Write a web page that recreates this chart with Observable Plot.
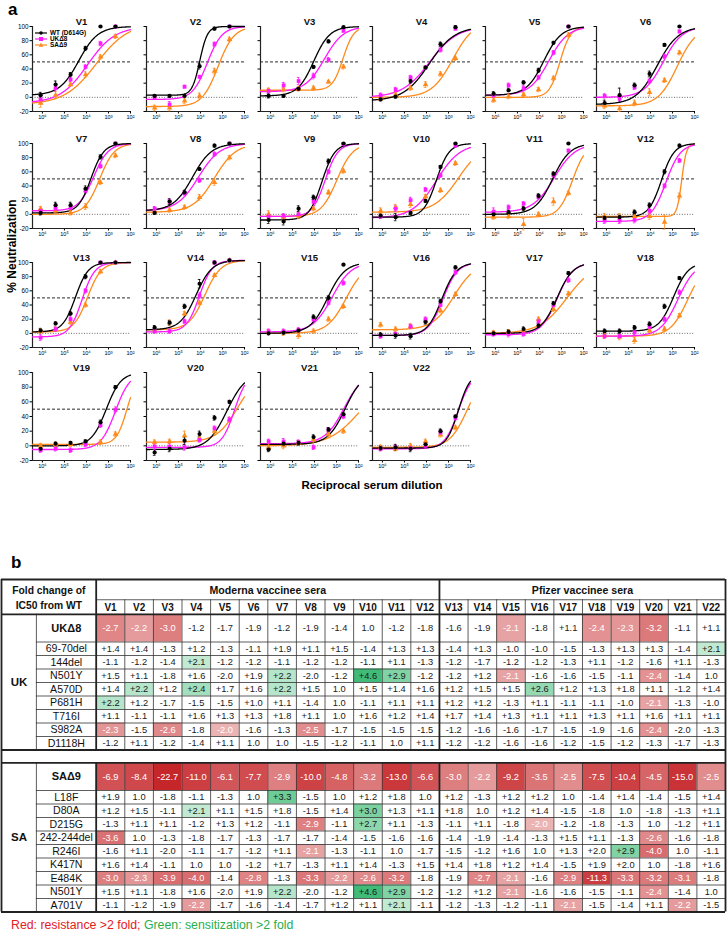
<!DOCTYPE html>
<html><head><meta charset="utf-8">
<script src="https://cdn.jsdelivr.net/npm/d3@7"></script>
<script src="https://cdn.jsdelivr.net/npm/@observablehq/plot@0.6"></script>
<style>
body{margin:0;background:#fff;}
#root{position:relative;width:727px;height:933px;font-family:"Liberation Sans",Arial,sans-serif;overflow:hidden;background:#fff;}
.abs{position:absolute;}
</style></head><body><div id="root"></div>
<script>
// ---------------- DATA (panel a) ----------------
const sera = ["V1","V2","V3","V4","V5","V6","V7","V8","V9","V10","V11","V12","V13","V14","V15","V16","V17","V18","V19","V20","V21","V22"];
const variants = ["WT (D614G)","UKΔ8","SAΔ9"];
const logDilution = [6.08, 5.40, 4.72, 4.04, 3.36, 2.68];
const xTicks = [6,5,4,3,2];
const xTickLabels = ["10⁶","10⁵","10⁴","10³","10²"];
const yTicks = [-20,0,20,40,60,80,100];

const wtMean = [
[3,18,32,69,100,100],[2,2,2,44,97,100],[2,2,12,43,79,99],[-3,1,23,42,75,99],[5,10,21,38,77,100],[-8,3,17,33,74,100],
[2,13,13,36,81,100],[2,18,31,64,97,100],[-8,-10,8,24,75,100],[-2,-4,2,19,67,100],[0,3,8,26,57,100],[-5,-4,3,13,60,97],
[4,14,28,80,100,100],[8,15,38,70,100,103],[0,1,4,23,50,97],[-2,-3,-4,16,45,93],[0,2,6,11,42,85],[3,3,8,13,38,78],
[-4,3,4,6,32,80],[-9,-4,7,16,38,60],[-5,3,4,12,22,43],[-3,-2,-4,2,20,40]];
const ukMean = [
[-3,13,25,43,76,100],[-1,-10,15,29,75,100],[9,17,23,30,53,94],[3,11,28,42,67,97],[3,17,13,28,63,100],[2,-2,14,23,58,93],
[5,8,9,34,68,100],[8,18,30,48,85,100],[-3,-2,0,18,60,99],[-3,8,20,35,55,97],[4,10,15,25,56,90],[-9,-9,-8,5,40,76],
[-6,6,20,60,100,100],[3,3,17,53,100,103],[3,3,5,20,43,71],[-4,-1,10,20,40,86],[-1,-1,-1,17,40,75],[-4,-4,1,9,20,58],
[-6,-4,-6,2,28,49],[-1,-1,-2,8,24,36],[6,6,5,-2,22,40],[-4,-2,-3,0,18,38]];
const saMean = [
[-8,3,18,32,57,86],[-15,-15,-5,2,37,82],[10,11,12,13,22,43],[-2,4,13,18,33,55],[-4,1,4,11,27,88],[-12,-16,-8,7,24,63],
[8,5,2,11,45,83],[4,6,10,24,45,80],[0,-4,-2,8,31,61],[5,10,14,25,34,72],[-4,-3,-14,0,18,30],[-3,-3,-3,-3,-11,26],
[3,6,16,40,87,100],[5,15,28,43,82,103],[2,1,-3,3,20,38],[12,6,10,18,32,55],[1,2,1,20,34,56],[-3,-5,-10,4,6,25],
[0,2,2,5,5,16],[5,6,14,10,20,36],[-2,0,4,8,16,20],[-2,-4,0,6,15,25]];

const wtErr = [
[4,5,3,3,1,1],[2,2,1,4,2,1],[3,2,2,2,2,1],[2,2,3,2,3,2],[3,2,2,3,2,1],[4,10,3,4,2,1],
[3,4,4,4,3,1],[2,4,3,2,2,1],[5,5,4,3,3,1],[3,5,2,2,2,1],[3,3,3,3,3,1],[3,3,3,3,3,2],
[3,2,3,3,1,1],[3,3,3,6,2,1],[2,2,2,3,3,1],[3,4,4,3,3,2],[2,3,3,3,3,2],[3,3,3,3,3,2],
[3,2,2,2,3,2],[4,4,5,4,3,2],[3,3,3,3,3,2],[3,4,4,3,3,2]];
const ukErr = [
[4,4,3,3,3,1],[2,4,2,2,3,1],[3,4,5,4,3,2],[3,3,3,2,3,2],[3,3,4,3,3,1],[3,3,3,3,3,2],
[3,3,3,3,3,1],[3,3,3,3,3,1],[4,3,3,3,3,1],[3,4,4,3,3,2],[5,3,3,3,3,2],[4,4,4,3,3,3],
[4,3,3,3,1,1],[3,3,3,4,2,1],[3,3,3,3,3,3],[3,3,3,3,3,3],[3,4,3,3,3,3],[3,3,3,3,3,3],
[3,3,3,3,3,4],[4,4,4,3,3,3],[3,4,3,3,3,3],[3,3,3,3,3,3]];
const saErr = [
[6,5,2,4,3,3],[4,4,4,4,4,3],[3,3,3,3,2,3],[2,3,3,4,3,3],[3,3,3,3,3,3],[4,4,4,5,3,3],
[3,3,3,4,3,3],[3,3,3,4,4,3],[5,4,4,3,3,3],[4,4,4,3,3,3],[3,3,8,3,5,3],[4,4,4,4,10,4],
[3,3,3,3,3,1],[4,4,3,3,2,1],[3,4,4,3,3,3],[3,3,3,3,3,3],[3,3,3,3,3,3],[4,4,4,3,3,3],
[3,3,3,3,3,3],[3,3,6,3,4,3],[5,4,3,4,3,3],[3,3,3,3,3,3]];

// fitted curve parameters: [bottom, top, log10 ID50, hill slope]
const wtFit = [
[3,100,4.35,1.0],[3,100,4.03,2.5],[2,100,4.03,1.2],[-5,100,3.87,0.75],[3,100,3.80,1.1],[-10,100,3.69,0.9],
[2,100,3.79,1.5],[5,100,4.36,1.0],[-8,100,3.66,1.5],[-4,100,3.55,1.5],[0,100,3.40,1.1],[-4,100,3.50,1.5],
[2,100,4.50,1.5],[5,103,4.20,1.2],[0,100,3.40,1.1],[-3,100,3.30,1.3],[0,100,3.20,1.2],[3,100,2.95,1.3],
[0,100,3.10,1.3],[-5,100,2.80,1.0],[2,100,2.60,1.1],[-3,100,2.55,1.6]];
const ukFit = [
[-8,100,3.95,0.7],[-3,100,3.69,1.3],[8,100,3.55,1.0],[0,100,3.85,0.7],[3,100,3.57,1.0],[0,100,3.42,1.0],
[5,100,3.68,1.3],[5,100,4.09,0.9],[-3,100,3.51,1.5],[-5,100,3.55,0.8],[3,100,3.33,0.9],[-10,100,3.30,1.3],
[-5,100,4.20,1.5],[2,103,4.05,1.5],[2,100,3.20,1.0],[-3,100,3.25,1.3],[-2,100,3.20,1.2],[-4,100,2.75,1.1],
[-5,100,2.68,1.3],[-2,100,2.45,1.5],[3,100,2.65,1.0],[-4,100,2.55,1.4]];
const saFit = [
[-10,105,3.55,0.6],[-13,100,3.20,1.2],[10,100,2.70,1.8],[0,108,2.80,0.9],[0,100,3.07,1.8],[-12,100,2.78,1.0],
[0,100,3.40,1.3],[3,100,3.36,0.9],[-3,100,2.98,1.2],[3,100,2.54,0.8],[-4,100,2.50,1.4],[-3,100,2.58,4.0],
[2,100,3.95,1.4],[5,103,3.80,1.2],[0,100,2.55,1.0],[5,100,2.75,0.9],[0,100,2.75,0.7],[-4,100,2.30,1.1],
[2,100,2.15,1.8],[5,100,2.30,0.9],[0,100,1.85,0.6],[-2,100,2.15,1.1]];

// ---------------- DATA (panel b) ----------------
const ukRows = ["UKΔ8","69-70del","144del","N501Y","A570D","P681H","T716I","S982A","D1118H"];
const ukFold = [
"-2.7 -2.2 -3.0 -1.2 -1.7 -1.9 -1.2 -1.9 -1.4 1.0 -1.2 -1.8 -1.6 -1.9 -2.1 -1.8 +1.1 -2.4 -2.3 -3.2 -1.1 +1.1",
"+1.4 +1.4 -1.3 +1.2 -1.3 -1.1 +1.9 +1.1 +1.5 -1.4 +1.3 +1.3 -1.4 +1.3 -1.0 -1.0 -1.5 -1.3 +1.3 +1.3 -1.4 +2.1",
"-1.1 -1.2 -1.4 +2.1 -1.2 -1.2 -1.1 -1.2 -1.2 -1.1 +1.1 -1.3 -1.2 -1.7 -1.2 -1.2 -1.3 +1.1 -1.2 -1.6 +1.1 -1.3",
"+1.5 +1.1 -1.8 +1.6 -2.0 +1.9 +2.2 -2.0 -1.2 +4.6 +2.9 -1.2 -1.2 +1.2 -2.1 -1.6 -1.6 -1.5 -1.1 -2.4 -1.4 1.0",
"+1.4 +2.2 +1.2 +2.4 +1.7 +1.6 +2.2 +1.5 1.0 +1.5 +1.4 +1.6 +1.2 +1.5 +1.5 +2.6 +1.2 +1.3 +1.8 +1.1 -1.2 +1.4",
"+2.2 +1.2 -1.7 -1.5 -1.5 +1.0 +1.1 -1.4 1.0 -1.1 +1.1 +1.1 +1.2 +1.2 -1.3 +1.1 -1.1 -1.1 -1.0 -2.1 -1.3 -1.0",
"+1.1 -1.1 -1.1 +1.6 +1.3 +1.3 +1.8 +1.1 1.0 +1.6 +1.2 +1.4 +1.7 +1.4 +1.3 +1.1 +1.1 +1.3 +1.1 +1.6 +1.1 +1.1",
"-2.3 -1.5 -2.6 -1.8 -2.0 -1.6 -1.3 -2.5 -1.7 -1.5 -1.5 -1.5 -1.2 -1.6 -1.6 -1.7 -1.5 -1.9 -1.6 -2.4 -2.0 -1.3",
"-1.2 +1.1 -1.2 -1.4 +1.1 1.0 1.0 -1.5 -1.2 -1.1 1.0 +1.1 -1.2 -1.2 -1.6 -1.6 -1.2 -1.5 -1.2 -1.3 -1.7 -1.3"];
const saRows = ["SAΔ9","L18F","D80A","D215G","242-244del","R246I","K417N","E484K","N501Y","A701V"];
const saFold = [
"-6.9 -8.4 -22.7 -11.0 -6.1 -7.7 -2.9 -10.0 -4.8 -3.2 -13.0 -6.6 -3.0 -2.2 -9.2 -3.5 -2.5 -7.5 -10.4 -4.5 -15.0 -2.5",
"+1.9 1.0 -1.8 -1.1 -1.3 1.0 +3.3 -1.5 1.0 +1.2 +1.8 1.0 +1.2 -1.3 +1.2 +1.2 1.0 -1.4 +1.4 -1.4 -1.5 +1.4",
"+1.2 +1.5 -1.1 +2.1 +1.1 +1.5 +1.8 -1.5 +1.4 +3.0 +1.3 +1.1 +1.8 1.0 +1.2 +1.4 -1.5 -1.8 1.0 -1.8 -1.3 +1.1",
"-1.3 +1.1 +1.1 -1.2 +1.3 +1.2 -1.1 -2.9 -1.1 +2.7 +1.1 -1.3 -1.1 +1.1 -1.8 -2.0 -1.2 -1.8 -1.3 1.0 -1.2 +1.1",
"-3.6 1.0 -1.3 -1.8 -1.7 -1.3 -1.7 -1.7 -1.4 -1.5 -1.6 -1.6 -1.4 -1.9 -1.4 -1.3 +1.5 +1.1 -1.3 -2.6 -1.6 -1.8",
"-1.6 +1.1 -2.0 -1.1 -1.7 -1.2 +1.1 -2.1 -1.3 -1.1 1.0 -1.7 -1.5 -1.2 +1.6 1.0 +1.3 +2.0 +2.9 -4.0 1.0 -1.1",
"+1.6 +1.4 -1.1 1.0 1.0 -1.2 +1.7 -1.3 +1.1 +1.4 -1.3 +1.5 +1.4 +1.8 +1.2 +1.4 -1.5 +1.9 +2.0 1.0 -1.8 +1.6",
"-3.0 -2.3 -3.9 -4.0 -1.4 -2.8 -1.3 -3.3 -2.2 -2.6 -3.2 -1.8 -1.9 -2.7 -2.1 -1.6 -2.9 -11.3 -3.3 -3.2 -3.1 -1.8",
"+1.5 +1.1 -1.8 +1.6 -2.0 +1.9 +2.2 -2.0 -1.2 +4.6 +2.9 -1.2 -1.2 +1.2 -2.1 -1.6 -1.6 -1.5 -1.1 -2.4 -1.4 1.0",
"-1.1 -1.2 -1.9 -2.2 -1.7 -1.6 -1.4 -1.7 +1.2 +1.1 +2.1 -1.1 -1.2 -1.3 -1.2 -1.1 -2.1 -1.5 -1.4 +1.1 -2.2 -1.5"];
// cells shown as "-2.0" but coloured red in the picture (just over 2 fold)
const borderlineRed = [["S982A","V5"],["D215G","V16"]];
const groupNames = ["UK","SA"];
const vaccineGroups = ["Moderna vaccinee sera","Pfizer vaccinee sera"];

// ---------------- RENDER ----------------
const root = document.getElementById("root");
const FONT = '"Liberation Sans", Arial, Helvetica, sans-serif';
function addDiv(html, css){ const d=document.createElement("div"); d.className="abs"; d.innerHTML=html; Object.assign(d.style, css); root.appendChild(d); return d; }

addDiv("a",{left:"8px",top:"0px",fontSize:"17px",lineHeight:"20px",fontWeight:"bold"});
addDiv("b",{left:"11px",top:"553px",fontSize:"17px",lineHeight:"20px",fontWeight:"bold"});

const colAxis = [32,146,260,372,485,596];
const rowTop = [26,143,262,372];
const keys = ["sa","uk","wt"];
const colors = {wt:"#000000", uk:"#ff1aff", sa:"#ff8a1c"};
const symbols = {wt:"circle", uk:"square", sa:"triangle"};

sera.forEach((name,i)=>{
  const row = Math.floor(i/6), col = i%6;
  const ph = row===3 ? 88 : 85, pw = 98, mL = 24, mR = 8, mT = 14, mB = 12;
  const src = {wt:[wtMean[i],wtErr[i],wtFit[i]], uk:[ukMean[i],ukErr[i],ukFit[i]], sa:[saMean[i],saErr[i],saFit[i]]};
  const pts = [], curve = [];
  for (const k of keys){
    const [m,e,f] = src[k];
    m.forEach((v,j)=>pts.push({k, x:logDilution[j], y:v, e:e[j]}));
    const [b,t,c,h] = f;
    for (let x=6.45; x>=1.999; x-=0.025) curve.push({k, x, y: b + (t-b)/(1+Math.pow(10, h*(x-c)))});
  }
  const cap = 0.06;
  const svg = Plot.plot({
    width: mL+pw+mR, height: mT+ph+mB,
    marginLeft: mL, marginRight: mR, marginTop: mT, marginBottom: mB,
    style: {fontFamily: FONT, background: "transparent", overflow: "visible"},
    x: {domain:[6.45,2], label:null},
    y: {domain:[-20,100], label:null},
    color: {domain: keys, range: keys.map(k=>colors[k])},
    symbol: {domain: keys, range: keys.map(k=>symbols[k])},
    marks: [
      Plot.ruleY([50], {stroke:"#111", strokeWidth:0.9, strokeDasharray:"3,2"}),
      Plot.ruleY([0], {stroke:"#444", strokeWidth:0.8, strokeDasharray:"1,1.6"}),
      Plot.axisY({ticks: yTicks, tickSize: 2.5, tickPadding: 1.5, fontSize: 6.3, tickFormat: col===0 ? (d=>String(d)) : (()=>"")}),
      Plot.axisX({ticks: xTicks, tickSize: 2.5, tickPadding: 1.5, fontSize: 5.6, tickFormat: d=>xTickLabels[xTicks.indexOf(d)]}),
      Plot.ruleX([6.45], {stroke:"#222", strokeWidth:1.2}),
      Plot.ruleY([-20], {stroke:"#222", strokeWidth:1.2}),
      Plot.line(curve, {x:"x", y:"y", z:"k", stroke:"k", strokeWidth:1.3}),
      Plot.ruleX(pts, {x:"x", y1:d=>d.y-d.e, y2:d=>d.y+d.e, stroke:"k", strokeWidth:0.8}),
      Plot.ruleY(pts, {y:d=>d.y+d.e, x1:d=>d.x+cap, x2:d=>d.x-cap, stroke:"k", strokeWidth:0.8}),
      Plot.ruleY(pts, {y:d=>d.y-d.e, x1:d=>d.x+cap, x2:d=>d.x-cap, stroke:"k", strokeWidth:0.8}),
      Plot.dot(pts, {x:"x", y:"y", fill:"k", symbol:"k", r:2.1, stroke:"none"}),
      Plot.text([name], {frameAnchor:"top", dy:-8, fontWeight:"bold", fontSize:9.5, fill:"#111"})
    ]
  });
  svg.style.position = "absolute";
  svg.style.left = (colAxis[col]-mL)+"px";
  svg.style.top = (rowTop[row]-mT)+"px";
  root.appendChild(svg);
});

// legend inside V1
const legSvg = (k) => {
  const c = colors[k];
  const mk = k==="wt" ? `<circle cx="6" cy="4" r="1.8" fill="${c}"/>` :
             k==="uk" ? `<rect x="4" y="2" width="4" height="4" fill="${c}"/>` :
                        `<path d="M6,1.6 L8.3,5.8 L3.7,5.8 Z" fill="${c}"/>`;
  return `<svg width="12" height="8" style="vertical-align:middle"><line x1="0" y1="4" x2="12" y2="4" stroke="${c}" stroke-width="1.2"/>${mk}</svg>`;
};
["wt","uk","sa"].forEach((k,j)=>{
  addDiv(legSvg(k)+`<span style="margin-left:3px">${variants[j]}</span>`,
    {left:"35px", top:(29+j*6)+"px", fontSize:"6.4px", fontWeight:"bold", lineHeight:"8px", whiteSpace:"nowrap"});
});

// axis titles
addDiv("% Neutralization",{left:"12px",top:"246px",transform:"translate(-50%,-50%) rotate(-90deg)",fontSize:"12px",fontWeight:"bold",whiteSpace:"nowrap"});
addDiv("Reciprocal serum dilution",{left:"372px",top:"485px",transform:"translate(-50%,-50%)",fontSize:"11.5px",fontWeight:"bold",whiteSpace:"nowrap"});

// ---------------- TABLE (panel b) ----------------
const groupW = 1.22, labelW = 2.09, vStart = groupW+labelW, xMax = vStart + sera.length;
const unitPx = 13.5, h1 = 1.5, h2 = 1.08, deltaH = 2.05, sepH = 0.95;
const lay = []; let yy = h1+h2;
const groupSpans = [];
[[ukRows,ukFold],[saRows,saFold]].forEach(([names,folds],g)=>{
  const gStart = yy;
  names.forEach((nm,r)=>{
    const h = r===0 ? deltaH : 1;
    lay.push({group:groupNames[g], label:nm, vals:folds[r].split(" "), y0:yy, y1:yy+h, bold:r===0});
    yy += h;
  });
  groupSpans.push({name:groupNames[g], y0:gStart, y1:yy});
  if (g===0) yy += sepH;
});
const total = yy;
const ukEnd = groupSpans[0].y1, saStart = groupSpans[1].y0;
const cells = [];
lay.forEach(r=>r.vals.forEach((t,j)=>{
  const v = parseFloat(t);
  const flagged = borderlineRed.some(([a,b])=>a===r.label && b===sera[j]);
  cells.push({x1:vStart+j, x2:vStart+j+1, y0:r.y0, y1:r.y1, text:t, v, red: v < -2.0 || flagged, green: v > 2.0});
}));
const redI = d3.interpolateRgb("#ecb3b3","#c5262a"), greenI = d3.interpolateRgb("#d6f1e1","#3cba74");
function cellFill(d){
  const f = Math.abs(d.v);
  if (d.red) return redI(Math.pow(Math.min(1, Math.max(0, Math.log(f/2)/Math.log(11))), 0.55));
  if (d.green) return greenI(Math.pow(Math.min(1, Math.max(0, Math.log(f/2)/Math.log(2.4))), 0.7));
  return "white";
}
const thin = [], thick = [];
thick.push({y:0, x1:0, x2:xMax},{y:total, x1:0, x2:xMax},{y:h1+h2, x1:0, x2:xMax},{y:ukEnd, x1:0, x2:xMax},{y:saStart, x1:0, x2:xMax});
thin.push({y:h1, x1:vStart, x2:xMax});
lay.forEach(r=>{ if (r.y0!==h1+h2 && r.y0!==saStart) thin.push({y:r.y0, x1:groupW, x2:xMax}); });
const vThick = [], vThin = [];
vThick.push({x:0,y1:0,y2:total},{x:xMax,y1:0,y2:total});
vThick.push({x:vStart,y1:0,y2:ukEnd},{x:vStart,y1:saStart,y2:total});
vThick.push({x:vStart+12,y1:0,y2:ukEnd},{x:vStart+12,y1:saStart,y2:total});
for (let j=1;j<sera.length;j++){ if (j!==12){ vThin.push({x:vStart+j,y1:h1,y2:ukEnd},{x:vStart+j,y1:saStart,y2:total}); } }
vThin.push({x:groupW,y1:h1+h2,y2:ukEnd},{x:groupW,y1:saStart,y2:total});

const tblTop = 575, tblH = 342;
const tbl = Plot.plot({
  width: 727, height: tblH, margin: 0,
  style: {fontFamily: FONT, background: "transparent", overflow: "visible"},
  x: {domain:[0,xMax], range:[1,725], axis:null},
  y: {domain:[0,total], range:[579-tblTop, 579-tblTop+total*unitPx], axis:null},
  marks: [
    Plot.rect(cells.filter(d=>d.red||d.green), {x1:"x1", x2:"x2", y1:"y0", y2:"y1", fill:cellFill, inset:0}),
    Plot.text(cells, {x:d=>(d.x1+d.x2)/2, y:d=>(d.y0+d.y1)/2, text:"text", fontSize:9.3, fill:d=>d.red?"#ffffff":"#1a1a1a"}),
    Plot.text(lay.filter(d=>!d.bold), {x:groupW+labelW/2, y:d=>(d.y0+d.y1)/2, text:"label", fontSize:10.6, fill:"#111"}),
    Plot.text(lay.filter(d=>d.bold), {x:groupW+labelW/2, y:d=>(d.y0+d.y1)/2, text:"label", fontSize:11, fontWeight:"bold", fill:"#111"}),
    Plot.text(groupSpans, {x:groupW/2, y:d=>(d.y0+d.y1)/2, text:"name", fontSize:11.5, fontWeight:"bold", fill:"#111"}),
    Plot.text(["Fold change of\nIC50 from WT"], {x:vStart/2, y:(h1+h2)/2, fontSize:10.3, fontWeight:"bold", lineHeight:1.45, fill:"#111"}),
    Plot.text(vaccineGroups, {x:(d,k)=>vStart+6+12*k-(k?1:0), y:h1/2+0.05, fontSize:10.6, fontWeight:"bold", fill:"#111"}),
    Plot.text(sera, {x:(d,k)=>vStart+k+0.5, y:h1+h2/2+0.02, fontSize:10, fontWeight:"bold", fill:"#111"}),
    Plot.ruleY(thin, {y:"y", x1:"x1", x2:"x2", stroke:"#333", strokeWidth:0.8}),
    Plot.ruleX(vThin, {x:"x", y1:"y1", y2:"y2", stroke:"#333", strokeWidth:0.8}),
    Plot.ruleY(thick, {y:"y", x1:"x1", x2:"x2", stroke:"#222", strokeWidth:1.8}),
    Plot.ruleX(vThick, {x:"x", y1:"y1", y2:"y2", stroke:"#222", strokeWidth:1.8})
  ]
});
tbl.style.position = "absolute"; tbl.style.left = "0px"; tbl.style.top = tblTop+"px";
root.appendChild(tbl);

addDiv('<span style="color:#e3201c">Red: resistance &gt;2 fold; </span><span style="color:#2aae4c">Green: sensitization &gt;2 fold</span>',
  {left:"11px", top:"918px", fontSize:"12.3px", whiteSpace:"nowrap", lineHeight:"15px"});
</script></body></html>
